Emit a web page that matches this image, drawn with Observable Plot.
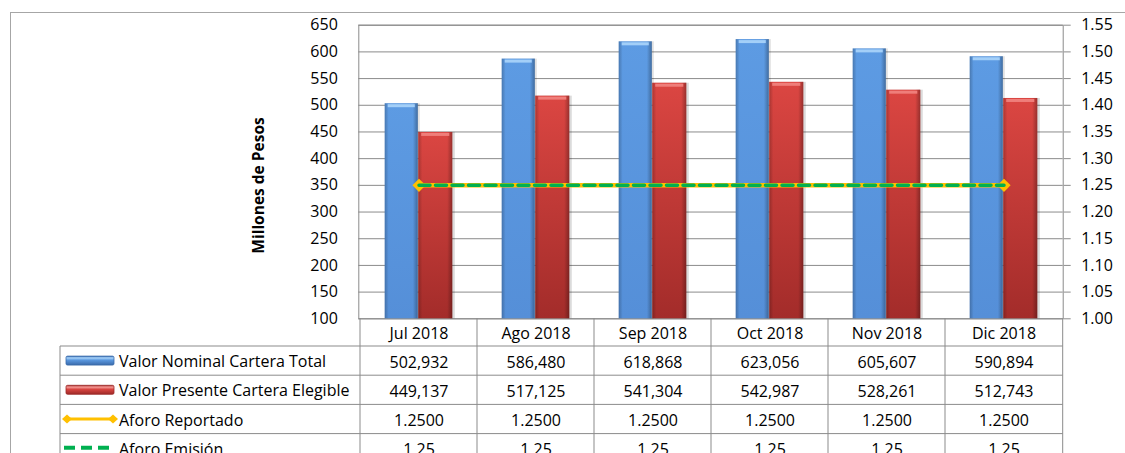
<!DOCTYPE html>
<html><head><meta charset="utf-8">
<script src="https://cdn.jsdelivr.net/npm/d3@7"></script>
<script src="https://cdn.jsdelivr.net/npm/@observablehq/plot@0.6"></script>
<style>
html,body{margin:0;padding:0;background:#fff;}
#chart{position:relative;width:1125px;height:453px;overflow:hidden;}
</style></head><body>
<svg width="0" height="0" style="position:absolute">
<defs>
 <linearGradient id="gBlue" x1="0" x2="0" y1="0" y2="1">
   <stop offset="0" stop-color="#5d9be3"/><stop offset="1" stop-color="#558fd8"/>
 </linearGradient>
 <linearGradient id="gRed" x1="0" x2="0" y1="0" y2="1">
   <stop offset="0" stop-color="#db4642"/><stop offset="1" stop-color="#a32c2a"/>
 </linearGradient>
 <linearGradient id="gEdge" x1="0" x2="1" y1="0" y2="0">
   <stop offset="0" stop-color="#000" stop-opacity="0.22"/>
   <stop offset="0.12" stop-color="#000" stop-opacity="0"/>
   <stop offset="0.85" stop-color="#000" stop-opacity="0"/>
   <stop offset="1" stop-color="#000" stop-opacity="0.3"/>
 </linearGradient>
 <linearGradient id="kBlue" x1="0" x2="0" y1="0" y2="1">
   <stop offset="0" stop-color="#3c6fb5"/><stop offset="0.2" stop-color="#a8d4fa"/>
   <stop offset="0.45" stop-color="#5a97de"/><stop offset="1" stop-color="#3a6aaa"/>
 </linearGradient>
 <linearGradient id="kRed" x1="0" x2="0" y1="0" y2="1">
   <stop offset="0" stop-color="#a8302d"/><stop offset="0.2" stop-color="#f59a96"/>
   <stop offset="0.45" stop-color="#d94541"/><stop offset="1" stop-color="#9c2a28"/>
 </linearGradient>
</defs></svg>
<div id="chart"></div>
<script>
const months = ["Jul 2018","Ago 2018","Sep 2018","Oct 2018","Nov 2018","Dic 2018"];
const nominal = [502932, 586480, 618868, 623056, 605607, 590894];
const presente = [449137, 517125, 541304, 542987, 528261, 512743];
const aforoReportado = [1.25, 1.25, 1.25, 1.25, 1.25, 1.25];
const aforoEmision = [1.25, 1.25, 1.25, 1.25, 1.25, 1.25];
const leftTicks = [100,150,200,250,300,350,400,450,500,550,600,650];
const rightTicks = [1.00,1.05,1.10,1.15,1.20,1.25,1.30,1.35,1.40,1.45,1.50,1.55];
const seriesNames = ["Valor Nominal Cartera Total","Valor Presente Cartera Elegible","Aforo Reportado","Aforo Emisión"];
const yTitle = "Millones de Pesos";

const leftDomain = [leftTicks[0], leftTicks[leftTicks.length-1]];
const rightDomain = [rightTicks[0], rightTicks[rightTicks.length-1]];
const toLeft = v => leftDomain[0] + (v - rightDomain[0]) * (leftDomain[1]-leftDomain[0]) / (rightDomain[1]-rightDomain[0]);
const fromLeft = v => rightDomain[0] + (v - leftDomain[0]) * (rightDomain[1]-rightDomain[0]) / (leftDomain[1]-leftDomain[0]);

const data = months.map((m,i)=>({month:m, nominal:nominal[i], presente:presente[i], rep:aforoReportado[i], emi:aforoEmision[i]}));
const ends = [data[0], data[data.length-1]];

const W = 1125, H = 453, mL = 358.3, mR = 62.3, mT = 24.7, mB = 134.7;
const grid = "#8b8b8b";
const fmtInt = d3.format(",");
const headerH = 27.7, rowH = 29.2;

// bar placement inside each band (pixels)
const bIn = {blueL: 24.7, blueR: 59.2, redL: 58.2, redR: 24.7};

const cellText = {frameAnchor: "bottom", lineAnchor: "middle"};

const plot = Plot.plot({
  width: W, height: H,
  marginLeft: mL, marginRight: mR, marginTop: mT, marginBottom: mB,
  style: {fontFamily: "'Open Sans', sans-serif", fontSize: "16px", color: "#000", background: "#fff"},
  x: {type: "band", domain: months, padding: 0, axis: null},
  y: {domain: leftDomain},
  marks: [
    Plot.gridY(leftTicks, {stroke: grid, strokeOpacity: 1, strokeWidth: 1}),
    Plot.frame({stroke: grid, strokeWidth: 1}),
    // shadows
    Plot.barY(data, {x: "month", y1: leftDomain[0], y2: d => d.nominal/1000, fill: "#000", fillOpacity: 0.12, dx: 2, insetLeft: bIn.blueL, insetRight: bIn.blueR}),
    Plot.barY(data, {x: "month", y1: leftDomain[0], y2: d => d.presente/1000, fill: "#000", fillOpacity: 0.14, dx: 2.5, insetLeft: bIn.redL, insetRight: bIn.redR}),
    // blue bars
    Plot.barY(data, {x: "month", y1: leftDomain[0], y2: d => d.nominal/1000, fill: "url(#gBlue)", insetLeft: bIn.blueL, insetRight: bIn.blueR}),
    Plot.barY(data, {x: "month", y1: leftDomain[0], y2: d => d.nominal/1000, fill: "url(#gEdge)", insetLeft: bIn.blueL, insetRight: bIn.blueR}),
    Plot.tickY(data, {x: "month", y: d => d.nominal/1000, stroke: "#a3cff8", strokeWidth: 3, dy: 2, insetLeft: bIn.blueL + 3, insetRight: bIn.blueR + 3}),
    // red bars
    Plot.barY(data, {x: "month", y1: leftDomain[0], y2: d => d.presente/1000, fill: "url(#gRed)", insetLeft: bIn.redL, insetRight: bIn.redR}),
    Plot.barY(data, {x: "month", y1: leftDomain[0], y2: d => d.presente/1000, fill: "url(#gEdge)", insetLeft: bIn.redL, insetRight: bIn.redR}),
    Plot.tickY(data, {x: "month", y: d => d.presente/1000, stroke: "#ef7e7a", strokeWidth: 3, dy: 2, insetLeft: bIn.redL + 3, insetRight: bIn.redR + 3}),
    // lines
    Plot.line(data, {x: "month", y: d => toLeft(d.rep), stroke: "#ffc000", strokeWidth: 4.5}),
    Plot.dot(ends, {x: "month", y: d => toLeft(d.rep), symbol: "diamond2", r: 5, fill: "#ffc000", stroke: "#ffc000"}),
    Plot.line(data, {x: "month", y: d => toLeft(d.emi), stroke: "#00b050", strokeWidth: 3.5, strokeDasharray: "11,5.5"}),
    // axes
    Plot.axisY(leftTicks, {anchor: "left", tickSize: 0, tickPadding: 21, label: null, fill: "#000"}),
    Plot.axisY(rightTicks.map(toLeft), {anchor: "right", tickSize: 7, tickPadding: 11, label: null, stroke: grid, fill: "#000",
      tickFormat: d => fromLeft(d).toFixed(2)}),
    // data table text
    Plot.text(months, {x: d => d, text: d => d, ...cellText, dy: headerH/2 + 1}),
    Plot.text(data, {x: "month", text: d => fmtInt(d.nominal), ...cellText, dy: headerH + rowH*0.5 + 1.5}),
    Plot.text(data, {x: "month", text: d => fmtInt(d.presente), ...cellText, dy: headerH + rowH*1.5 + 1.5}),
    Plot.text(data, {x: "month", text: d => d.rep.toFixed(4), ...cellText, dy: headerH + rowH*2.5 + 1.5}),
    Plot.text(data, {x: "month", text: d => d.emi.toFixed(2), ...cellText, dy: headerH + rowH*3.5 + 1})
  ]
});
document.getElementById("chart").appendChild(plot);

// ---- decorations: outer frame, axis title, data-table grid and legend keys ----
const svg = d3.select(plot);
const xs = plot.scale("x");
const fb = H - mB, fr = W - mR;
const g = svg.insert("g", ":first-child");
g.append("rect").attr("x", 10.5).attr("y", 12.5).attr("width", W + 50).attr("height", H + 50)
  .attr("fill", "none").attr("stroke", "#a6a6a6");

const tg = svg.append("g").attr("stroke", grid).attr("fill", "none");
const tableLeft = 60;
months.forEach(m => {
  const x0 = xs.apply(m);
  tg.append("line").attr("x1", x0).attr("x2", x0).attr("y1", fb).attr("y2", H + 5);
});
tg.append("line").attr("x1", fr).attr("x2", fr).attr("y1", fb).attr("y2", H + 5);
tg.append("line").attr("x1", tableLeft).attr("x2", tableLeft).attr("y1", fb + headerH).attr("y2", H + 5);
for (let k = 0; k < 4; k++) {
  const y = fb + headerH + k * rowH;
  tg.append("line").attr("x1", tableLeft).attr("x2", fr).attr("y1", y).attr("y2", y);
}

// legend rows
const lg = svg.append("g").attr("text-anchor", "start");
const rowMid = k => fb + headerH + rowH * (k + 0.5);
seriesNames.forEach((name, k) => {
  lg.append("text").attr("x", 119).attr("y", rowMid(k) + 1.5).attr("dy", "0.32em")
    .attr("text-anchor", "start")
    .attr("font-family", "'Open Sans', sans-serif").attr("font-size", 16).attr("fill", "#000").text(name);
});
lg.append("rect").attr("x", 66).attr("y", rowMid(0) - 4.5).attr("width", 48).attr("height", 9).attr("rx", 1.5)
  .attr("fill", "url(#kBlue)").attr("stroke", "#3a6aaa").attr("stroke-width", 0.8);
lg.append("rect").attr("x", 66).attr("y", rowMid(1) - 4.5).attr("width", 48).attr("height", 9).attr("rx", 1.5)
  .attr("fill", "url(#kRed)").attr("stroke", "#9c2a28").attr("stroke-width", 0.8);
lg.append("line").attr("x1", 67).attr("x2", 113).attr("y1", rowMid(2)).attr("y2", rowMid(2))
  .attr("stroke", "#ffc000").attr("stroke-width", 3);
[67, 113].forEach(cx => {
  lg.append("path").attr("d", `M${cx-5},${rowMid(2)} L${cx},${rowMid(2)-4.5} L${cx+5},${rowMid(2)} L${cx},${rowMid(2)+4.5} Z`)
    .attr("fill", "#ffc000");
});
lg.append("line").attr("x1", 64).attr("x2", 114).attr("y1", rowMid(3) - 0.5).attr("y2", rowMid(3) - 0.5)
  .attr("stroke", "#00b050").attr("stroke-width", 4).attr("stroke-dasharray", "11,6");

// y-axis title
svg.append("text").attr("transform", `translate(${mL - 100},${(mT + fb) / 2 + 14}) rotate(-90)`)
  .attr("text-anchor", "middle").attr("dy", "0.35em")
  .attr("font-family", "'Open Sans', sans-serif").attr("font-size", 15.5).attr("font-weight", "bold")
  .attr("fill", "#000").text(yTitle);
</script>
</body></html>
